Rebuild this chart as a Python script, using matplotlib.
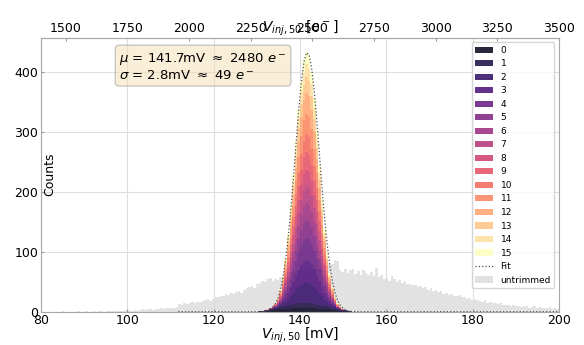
import matplotlib
matplotlib.use("Agg")
import matplotlib.pyplot as plt
import numpy as np

# values
mv_lo, mv_hi, bin_w = 80.0, 200.0, 0.6
mv_to_e = 17.5          # electrons per mV
mu_mv, sigma_mv = 141.7, 2.8
e_ticks = [1500, 1750, 2000, 2250, 2500, 2750, 3000, 3250, 3500]

# untrimmed counts, one value per 0.6 mV bin from 80 to 200 mV
untrimmed = [
    0, 0, 0, 0, 0, 0, 0, 0, 1, 0, 0, 0, 0, 0, 1, 0, 0, 1, 0, 0,
    1, 0, 1, 1, 0, 2, 1, 1, 2, 1, 2, 1, 2, 3, 2, 2, 3, 2, 3, 4,
    3, 4, 5, 3, 4, 5, 6, 5, 6, 6, 7, 6, 8, 13, 12, 14, 13, 15, 16, 14,
    17, 16, 18, 19, 21, 18, 22, 25, 24, 27, 26, 29, 28, 31, 30, 33, 35, 32, 37, 39,
    41, 43, 40, 46, 48, 51, 49, 54, 57, 52, 55, 53, 58, 60, 62, 59, 64, 66, 63, 68,
    70, 67, 72, 74, 71, 76, 73, 78, 75, 80, 77, 80, 79, 86, 84, 70, 66, 72, 64, 69,
    71, 63, 68, 61, 70, 65, 62, 66, 60, 73, 58, 61, 55, 57, 52, 59, 54, 50, 53, 48,
    51, 46, 47, 44, 45, 41, 43, 39, 42, 37, 40, 35, 36, 33, 34, 30, 31, 28, 29, 27,
    26, 28, 24, 25, 22, 23, 20, 21, 19, 18, 17, 19, 15, 16, 14, 15, 13, 14, 12, 11,
    12, 10, 11, 9, 10, 8, 9, 10, 7, 8, 9, 7, 8, 6, 7, 6, 8, 5, 6, 5,
]

# trimmed peak, bins starting at bin 83 (129.8 mV)
first_bin = 83
group0 = [0, 1, 0, 1, 1, 2, 3, 3, 4, 4, 5, 5, 5, 6, 6, 6, 6, 6, 6, 6,
          6, 6, 6, 5, 5, 5, 4, 4, 4, 3, 3, 2, 2, 1, 1, 1, 0, 0]
group1 = [0, 0, 1, 1, 1, 2, 2, 3, 3, 4, 5, 5, 6, 6, 7, 7, 8, 8, 8, 8,
          8, 8, 7, 7, 6, 6, 5, 5, 4, 4, 3, 2, 2, 1, 1, 0, 1, 0]
# summed counts of groups 2..15 and the share of each of those groups
rest_total = [0, 0, 1, 1, 2, 3, 5, 9, 17, 30, 51, 80, 119, 166, 216, 272, 324, 370, 404, 419,
              412, 384, 343, 290, 233, 177, 129, 88, 56, 34, 19, 10, 5, 3, 1, 1, 0, 0]
rest_share = [0.083, 0.088, 0.088, 0.072, 0.067, 0.067, 0.067,
              0.070, 0.070, 0.083, 0.083, 0.062, 0.052, 0.049]
layer_names = [str(i) for i in range(16)]

# gaussian fit
fit_mv = [111.8, 128.0, 130.1, 130.7, 131.3, 131.9, 132.5, 133.1, 133.7, 134.3,
          134.9, 135.5, 136.1, 136.7, 137.3, 137.9, 138.5, 139.1, 139.7, 140.3,
          140.9, 141.5, 142.1, 142.7, 143.3, 143.9, 144.5, 145.1, 145.7, 146.3,
          146.9, 147.5, 148.1, 148.7, 149.3, 149.9, 150.5, 151.1, 151.7, 152.3,
          156.0, 200.0]
fit_counts = [0, 0, 0.1, 0.2, 0.4, 1.0, 2.0, 3.9, 7.3, 13.2,
              22.6, 37.3, 58.6, 87.9, 126, 172, 225, 281, 336, 382,
              416, 432, 429, 406, 368, 318, 263, 207, 156, 112,
              77, 51, 32, 19, 11, 6, 3.1, 1.6, 0.7, 0.3,
              0, 0]

edges = mv_lo + bin_w * np.arange(len(untrimmed) + 1)
centers = edges[:-1] + bin_w / 2
trim_centers = centers[first_bin:first_bin + len(rest_total)]
layers = [np.array(group0), np.array(group1)] + [np.array(rest_total) * s for s in rest_share]
colors = plt.cm.magma(np.linspace(0.06, 1, len(layers)))

fig = plt.figure(figsize=(5.84, 3.45), dpi=100)
ax = fig.add_axes([0.0702, 0.0965, 0.887, 0.7942])

ax.hist(centers, bins=edges, weights=untrimmed, histtype="stepfilled",
        color="#e2e2e2", zorder=1, label="untrimmed")
ax.hist([trim_centers] * len(layers), bins=edges, weights=layers, stacked=True,
        histtype="stepfilled", color=colors, alpha=0.87, zorder=2, label=layer_names)
ax.plot(fit_mv, fit_counts, ls=":", color="0.3", lw=0.9, zorder=3, label="Fit")

ax.set_xlim(mv_lo, mv_hi)
ax.set_ylim(0, 457)
ax.grid(True, color="#dedede", lw=0.8)
ax.tick_params(labelsize=9, length=2, direction="in", pad=2, color="0.6")
for sp in ax.spines.values():
    sp.set_color("0.65")
    sp.set_linewidth(0.8)

ax.set_xlabel("$V_{inj,50}$ [mV]", fontsize=10, labelpad=-1)
ax.set_ylabel("Counts", fontsize=9)
ax.yaxis.set_label_coords(0.03, 0.5)

sec = ax.secondary_xaxis("top", functions=(lambda v: v * mv_to_e, lambda e: e / mv_to_e))
sec.set_xticks(e_ticks)
sec.tick_params(labelsize=9, length=2, direction="in", pad=2, color="0.6")
sec.spines["top"].set_color("0.65")
sec.set_xlabel("$V_{inj,50}$ [$e^-$]", fontsize=10, labelpad=-7)

txt = "$\\mu$ = {:.1f}mV $\\approx$ {:.0f} $e^-$\n$\\sigma$ = {:.1f}mV $\\approx$ {:.0f} $e^-$".format(
    mu_mv, mu_mv * mv_to_e, sigma_mv, sigma_mv * mv_to_e)
ax.text(0.151, 0.951, txt, transform=ax.transAxes, fontsize=9.5, va="top",
        bbox=dict(boxstyle="round", facecolor="wheat", edgecolor="0.6", alpha=0.5))

handles, labels = ax.get_legend_handles_labels()
order = [labels.index(n) for n in layer_names + ["Fit", "untrimmed"]]
ax.legend([handles[i] for i in order], [labels[i] for i in order], loc="upper right",
          fontsize=6.5, edgecolor="0.8")

fig.savefig("out.png", dpi=100)
